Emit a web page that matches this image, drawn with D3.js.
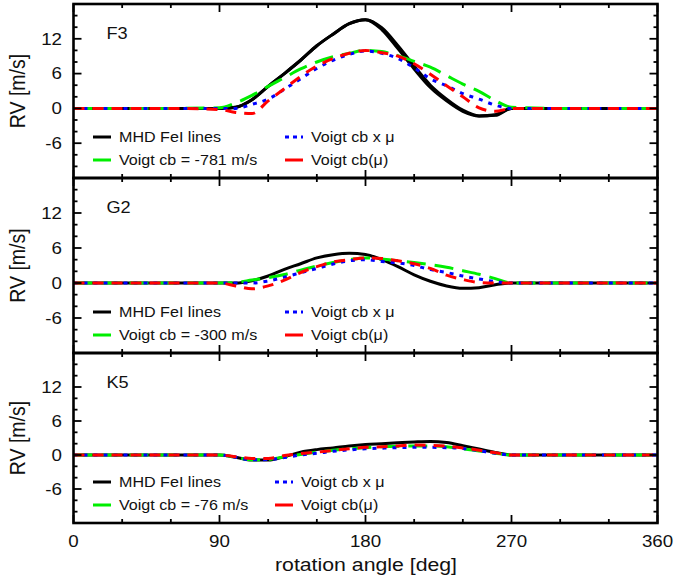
<!DOCTYPE html>
<html>
<head>
<meta charset="utf-8">
<script src="https://cdn.jsdelivr.net/npm/d3@7"></script>
<style>
  body { margin: 0; background: #fff; }
  text { font-family: "Liberation Sans", Arial, sans-serif; fill: #111; }
</style>
</head>
<body>
<svg id="chart" width="678" height="580"></svg>
<script>
// rotation angle samples [deg], shared by all curves
const angles = [0, 30, 60, 90, 100, 110, 120, 130, 140, 150, 160, 170, 180,
                190, 200, 210, 220, 230, 240, 250, 260, 270, 300, 330, 360]

// F3 star
const f3Mhd      = [0, 0, 0, 0, 0.2, 1.5, 3.8, 6.0, 8.3, 10.8, 12.8, 14.6, 15.3, 13.6, 10.3, 6.8, 3.6, 1.3, -0.5, -1.3, -1.1, 0, 0, 0, 0]
const f3MhdEdge  = [0, 0, 0, 0, 0.2, 1.5, 3.8, 6.0, 8.3, 10.8, 12.8, 14.6, 15.3, 13.9, 10.8, 7.3, 4.0, 1.6, -0.3, -1.3, -1.2, 0, 0, 0, 0]
const f3Voigt    = [0, 0, 0, 0.1, 0.95, 2.25, 3.8, 5.3, 6.8, 8.0, 8.9, 9.5, 10.0, 9.8, 9.1, 8.1, 7.1, 5.65, 4.2, 2.95, 1.35, 0.2, 0, 0, 0]
const f3VoigtMu  = [0, 0, 0, 0, 0, 0.7, 1.6, 3.3, 5.1, 6.9, 8.3, 9.3, 9.9, 9.5, 8.6, 7.0, 5.1, 3.9, 2.55, 1.6, 0.55, 0, 0, 0, 0]
const f3VoigtCb  = [0, 0, 0, -0.2, -0.7, -0.9, 1.3, 3.4, 5.5, 7.3, 8.6, 9.5, 10.0, 9.6, 9.0, 7.7, 5.9, 3.9, 2.0, 0.1, -0.5, 0, 0, 0, 0]

// G2 star
const g2Mhd      = [0, 0, 0, 0, 0, 0.4, 1.2, 2.35, 3.3, 4.3, 4.85, 5.1, 4.9, 4.0, 2.8, 1.4, 0.3, -0.5, -0.9, -0.8, -0.3, 0, 0, 0, 0]
const g2Voigt    = [0, 0, 0, 0, 0.1, 0.5, 0.9, 1.45, 2.2, 2.9, 3.5, 4.0, 4.3, 4.1, 3.8, 3.5, 3.15, 2.7, 2.1, 1.5, 0.75, 0, 0, 0, 0]
const g2VoigtMu  = [0, 0, 0, 0, 0, 0, 0.35, 1.0, 1.75, 2.5, 3.25, 3.8, 4.0, 3.7, 3.45, 3.0, 2.3, 1.8, 1.2, 0.7, 0.25, 0, 0, 0, 0]
const g2VoigtCb  = [0, 0, 0, 0, -0.5, -1.0, -0.5, 0.5, 1.8, 2.8, 3.6, 4.0, 4.3, 4.2, 3.8, 3.3, 2.5, 1.35, 0.6, 0.1, 0, 0, 0, 0, 0]

// K5 star
const k5Mhd      = [0, 0, 0, 0, -0.4, -0.9, -0.9, -0.3, 0.5, 0.95, 1.25, 1.6, 1.85, 2.0, 2.15, 2.3, 2.4, 2.2, 1.65, 1.05, 0.45, 0, 0, 0, 0]
const k5Voigt    = [0, 0, 0, 0, -0.4, -0.85, -0.8, -0.3, 0.1, 0.5, 0.85, 1.1, 1.3, 1.45, 1.55, 1.6, 1.6, 1.45, 1.1, 0.7, 0.3, 0, 0, 0, 0]
const k5VoigtMu  = [0, 0, 0, 0, -0.4, -0.85, -0.8, -0.45, 0, 0.3, 0.65, 0.9, 1.1, 1.2, 1.3, 1.35, 1.35, 1.3, 1.15, 0.75, 0.3, 0, 0, 0, 0]
const k5VoigtCb  = [0, 0, 0, 0, -0.3, -0.6, -0.6, -0.1, 0.25, 0.5, 0.8, 1.1, 1.35, 1.45, 1.6, 1.75, 1.7, 1.55, 1.25, 0.85, 0.4, 0, 0, 0, 0]

const starNames = ["F3", "G2", "K5"]
const cbValues = ["-781", "-300", "-76"]
const yTickLabels = [-6, 0, 6, 12]
const xTickLabels = [0, 90, 180, 270, 360]

const svg = d3.select("#chart")
const stretch = 1.15 // text in the picture is a bit wider than tall

// line styles, drawn in this order
const styles = [
    {color: "#000000", dash: null, label: "MHD FeI lines"},
    {color: "#00ee00", dash: "19,9", label: null},
    {color: "#0000ff", dash: "4,6", label: "Voigt cb x \u03bc"},
    {color: "#ff0000", dash: "11,8", label: "Voigt cb(\u03bc)"}
]

const panels = [
    {top: 4, bottom: 178, series: [[f3Mhd, f3MhdEdge], [f3Voigt], [f3VoigtMu], [f3VoigtCb]], col2: 285},
    {top: 178, bottom: 353, series: [[g2Mhd], [g2Voigt], [g2VoigtMu], [g2VoigtCb]], col2: 285},
    {top: 353, bottom: 523, series: [[k5Mhd], [k5Voigt], [k5VoigtMu], [k5VoigtCb]], col2: 275}
]

const x = d3.scaleLinear().domain([0, 360]).range([73.5, 657.5])

function stxt(g, px, py, s, size, anchor) {
    return g.append("text")
        .attr("transform", `translate(${px},${py}) scale(${stretch},1)`)
        .attr("text-anchor", anchor)
        .style("font-size", size + "px")
        .text(s)
}

panels.forEach((p, i) => {
    const y = d3.scaleLinear().domain([-12, 18]).range([p.bottom, p.top])
    const g = svg.append("g")

    const line = d3.line()
        .x((d, j) => x(angles[j]))
        .y(d => y(d))
        .curve(d3.curveMonotoneX)

    // curves
    p.series.forEach((list, k) => {
        list.forEach(vals => {
            g.append("path")
                .attr("d", line(vals))
                .attr("fill", "none")
                .attr("stroke", styles[k].color)
                .attr("stroke-width", 3)
                .attr("stroke-dasharray", styles[k].dash)
        })
    })

    // ticks on all four sides, pointing inwards
    const ticks = g.append("g").attr("stroke", "#000").attr("stroke-width", 1.8)
    d3.range(0, 361, 30).forEach(a => {
        const len = a % 90 === 0 ? 8 : 4
        ticks.append("line").attr("x1", x(a)).attr("x2", x(a)).attr("y1", p.bottom).attr("y2", p.bottom - len)
        ticks.append("line").attr("x1", x(a)).attr("x2", x(a)).attr("y1", p.top).attr("y2", p.top + len)
    })
    d3.range(-12, 19, 2).forEach(v => {
        const len = v % 6 === 0 ? 8 : 4
        ticks.append("line").attr("x1", x(0)).attr("x2", x(0) + len).attr("y1", y(v)).attr("y2", y(v))
        ticks.append("line").attr("x1", x(360)).attr("x2", x(360) - len).attr("y1", y(v)).attr("y2", y(v))
    })

    // frame
    g.append("rect")
        .attr("x", x(0)).attr("y", p.top)
        .attr("width", x(360) - x(0)).attr("height", p.bottom - p.top)
        .attr("fill", "none").attr("stroke", "#000").attr("stroke-width", 2.6)

    // y tick labels
    yTickLabels.forEach(v => {
        stxt(g, 62, y(v) + 5.8, String(v), 16.3, "end")
    })

    // y axis title
    g.append("text")
        .attr("transform", `translate(17.5,${(p.top + p.bottom) / 2}) scale(${stretch},1) rotate(-90)`)
        .attr("text-anchor", "middle")
        .attr("dy", "0.35em")
        .style("font-size", "19.5px")
        .text("RV [m/s]")

    // star label
    stxt(g, 106.5, p.top + 35, starNames[i], 15.8, "start")

    // legend
    const rows = [p.bottom - 41, p.bottom - 18]
    const entries = [
        {k: 0, col: 93, row: 0, text: styles[0].label},
        {k: 1, col: 93, row: 1, text: `Voigt cb = ${cbValues[i]} m/s`},
        {k: 2, col: p.col2, row: 0, text: styles[2].label},
        {k: 3, col: p.col2, row: 1, text: styles[3].label}
    ]
    entries.forEach(e => {
        g.append("line")
            .attr("x1", e.col).attr("x2", e.col + 18)
            .attr("y1", rows[e.row]).attr("y2", rows[e.row])
            .attr("stroke", styles[e.k].color)
            .attr("stroke-width", 3)
            .attr("stroke-dasharray", e.k === 0 ? null : (e.k === 2 ? "4,4" : "18,4"))
        stxt(g, e.col + 26, rows[e.row] + 5, e.text, 14, "start")
    })
})

// x tick labels and title
xTickLabels.forEach(a => {
    stxt(svg, x(a), 547, String(a), 16.3, "middle")
})
stxt(svg, 366, 571, "rotation angle [deg]", 18.5, "middle")
</script>
</body>
</html>
